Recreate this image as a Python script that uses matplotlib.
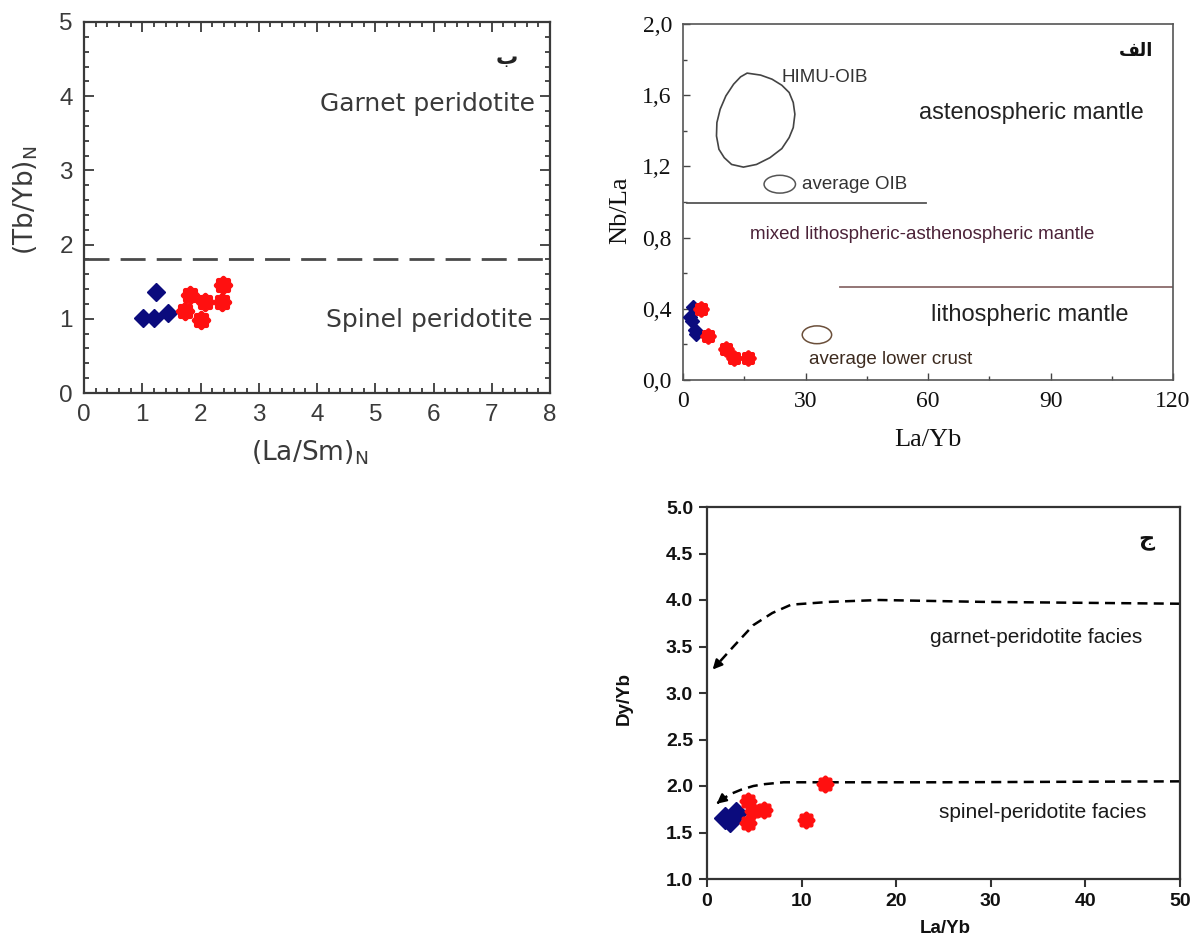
import numpy as np
import matplotlib.pyplot as plt
from matplotlib.path import Path
from matplotlib.patches import Ellipse, Polygon
from matplotlib.ticker import MultipleLocator, FuncFormatter

W, H = 1201, 942

# ---- panel ب : (La/Sm)N vs (Tb/Yb)N
lasm_blue = [1.02, 1.21, 1.23, 1.45]
tbyb_blue = [1.01, 1.01, 1.36, 1.08]
lasm_red = [1.74, 1.82, 2.01, 2.08, 2.37, 2.39]
tbyb_red = [1.10, 1.32, 0.99, 1.23, 1.23, 1.46]
tbyb_limit = 1.8

# ---- panel الف : La/Yb vs Nb/La
layb_blue_a = [2.4, 1.7, 2.1, 2.9, 3.3]
nbla_blue = [0.41, 0.356, 0.33, 0.28, 0.26]
layb_red_a = [4.3, 6.2, 10.5, 12.5, 16.0]
nbla_red = [0.40, 0.247, 0.174, 0.125, 0.125]
himu_x = [15.7, 19.0, 21.8, 24.2, 26.0, 27.0, 27.4, 27.0, 26.0, 24.2, 21.3,
          18.0, 14.8, 11.9, 10.1, 8.8, 8.2, 8.3, 9.1, 10.5, 12.4, 14.1]
himu_y = [1.724, 1.713, 1.690, 1.656, 1.615, 1.559, 1.493, 1.418, 1.362, 1.300, 1.249,
          1.211, 1.196, 1.211, 1.249, 1.296, 1.371, 1.446, 1.521, 1.596, 1.662, 1.703]
oib_avg = (23.7, 1.10)
crust_avg = (32.8, 0.254)

# ---- panel ج : La/Yb vs Dy/Yb
layb_blue_c = [1.9, 2.4, 3.1]
dyyb_blue = [1.66, 1.62, 1.71]
layb_red_c = [4.35, 4.35, 4.9, 6.0, 10.45, 12.5]
dyyb_red = [1.84, 1.60, 1.73, 1.74, 1.63, 2.02]
garnet_x = [50, 29, 18.2, 13, 8.9, 6.9, 4.9, 2.8, 1.2, 0.4]
garnet_y = [3.96, 3.98, 4.0, 3.98, 3.95, 3.86, 3.73, 3.5, 3.32, 3.23]
spinel_x = [50, 25, 12.6, 8.1, 6.1, 4.9, 3.6, 2.4, 1.4, 0.8]
spinel_y = [2.05, 2.04, 2.04, 2.04, 2.02, 2.0, 1.96, 1.91, 1.84, 1.79]

BLUE = '#0b0b7d'
RED = '#ff1010'

# scalloped round marker for the red samples
th = np.linspace(0, 2 * np.pi, 97)
rr = 1 + 0.09 * np.cos(8 * th)
flower = Path(np.column_stack([rr * np.cos(th), rr * np.sin(th)]), closed=True)


def place(fig, l, t, r, b):
    return fig.add_axes([l / W, 1 - b / H, (r - l) / W, (b - t) / H])


fig = plt.figure(figsize=(W / 100, H / 100), dpi=100)

# ================= ب =================
ax = place(fig, 84, 22, 550, 393)
grey = '#3a3a3a'
ax.axhline(tbyb_limit, color='#4a4a4a', lw=2, dashes=(9, 4))
ax.plot(lasm_blue, tbyb_blue, 'D', color=BLUE, ms=9.5, mec=BLUE)
ax.plot(lasm_red, tbyb_red, ls='none', marker=flower, color=RED, ms=13)
ax.set_xlim(0, 8)
ax.set_ylim(0, 5)
ax.xaxis.set_major_locator(MultipleLocator(1))
ax.yaxis.set_major_locator(MultipleLocator(1))
ax.xaxis.set_minor_locator(MultipleLocator(0.2))
ax.yaxis.set_minor_locator(MultipleLocator(0.2))
ax.tick_params(which='both', direction='in', top=True, right=True, colors=grey, width=1.3)
ax.tick_params(which='major', length=7, labelsize=17.5, pad=8)
ax.tick_params(which='minor', length=3.5)
for lab in ax.get_xticklabels() + ax.get_yticklabels():
    lab.set_family('Liberation Sans')
for s in ax.spines.values():
    s.set_color(grey)
    s.set_linewidth(1.6)
ax.text(7.75, 3.9, 'Garnet peridotite', ha='right', va='center', fontsize=18, color=grey,
        family='DejaVu Sans')
ax.text(7.7, 0.98, 'Spinel peridotite', ha='right', va='center', fontsize=18, color=grey,
        family='DejaVu Sans')
ax.text(7.26, 4.52, 'ب', ha='center', va='center', fontsize=16, fontweight='bold',
        color='#222222', family='DejaVu Sans')
ax.set_ylabel('(Tb/Yb)$_{\\mathregular{N}}$', fontsize=19, color=grey, family='DejaVu Sans')
ax.set_xlabel('(La/Sm)$_{\\mathregular{N}}$', fontsize=19, color=grey, family='DejaVu Sans')
ax.yaxis.set_label_coords(-0.125, 0.52)
ax.xaxis.set_label_coords(0.485, -0.16)
ax.yaxis.label.set_va('center')
ax.xaxis.label.set_va('center')

# ================= الف =================
ax = place(fig, 683, 24, 1173, 380)
ax.set_xlim(0, 120)
ax.set_ylim(0, 2.0)
ax.add_patch(Polygon(np.column_stack([himu_x, himu_y]), closed=True, fill=False,
                     ec='#444444', lw=1.2))
ax.add_patch(Ellipse(oib_avg, 7.7, 0.10, fill=False, ec='#555555', lw=1.1))
ax.add_patch(Ellipse(crust_avg, 7.2, 0.10, fill=False, ec='#6b4f3a', lw=1.1))
ax.plot([1.1, 59.4], [0.995, 0.995], color='#555555', lw=1.3)
ax.plot([38.5, 120], [0.522, 0.522], color='#8a6a6a', lw=1.3)
ax.plot(layb_blue_a, nbla_blue, 'D', color=BLUE, ms=7.5, zorder=3)
ax.plot(layb_red_a, nbla_red, ls='none', marker=flower, color=RED, ms=11, zorder=4)
sans = 'Liberation Sans'
ax.text(24.2, 1.70, 'HIMU-OIB', ha='left', va='center', fontsize=13.5, color='#333333', family=sans)
ax.text(29.1, 1.10, 'average OIB', ha='left', va='center', fontsize=13.5, color='#333333', family=sans)
ax.text(85.2, 1.50, 'astenospheric mantle', ha='center', va='center', fontsize=17,
        color='#222222', family=sans)
ax.text(58.5, 0.817, 'mixed lithospheric-asthenospheric mantle', ha='center', va='center',
        fontsize=13.5, color='#4b2238', family=sans)
ax.text(84.8, 0.366, 'lithospheric mantle', ha='center', va='center', fontsize=17,
        color='#222222', family=sans)
ax.text(50.9, 0.113, 'average lower crust', ha='center', va='center', fontsize=13.5,
        color='#3d2b1f', family=sans)
# visual order of the shaped word "الف"
ax.text(111, 1.85, '\ufed2\ufedf\ufe8d', ha='center', va='center', fontsize=13,
        fontweight='bold', color='#111111', family='DejaVu Sans')
ax.xaxis.set_major_locator(MultipleLocator(30))
ax.xaxis.set_minor_locator(MultipleLocator(15))
ax.yaxis.set_major_locator(MultipleLocator(0.4))
ax.yaxis.set_minor_locator(MultipleLocator(0.2))
ax.yaxis.set_major_formatter(FuncFormatter(lambda v, p: f'{v:.1f}'.replace('.', ',')))
ax.tick_params(which='both', direction='in', colors='#444444', labelcolor='#111111', width=1)
ax.tick_params(which='major', length=5, labelsize=17, pad=8)
ax.tick_params(which='minor', length=3)
for lab in ax.get_xticklabels() + ax.get_yticklabels():
    lab.set_family('Liberation Serif')
for s in ax.spines.values():
    s.set_color('#555555')
    s.set_linewidth(1.2)
ax.set_ylabel('Nb/La', fontsize=19, family='Liberation Serif', color='#111111')
ax.set_xlabel('La/Yb', fontsize=19, family='Liberation Serif', color='#111111')
ax.yaxis.set_label_coords(-0.129, 0.478)
ax.xaxis.set_label_coords(0.5, -0.169)
ax.yaxis.label.set_va('center')
ax.xaxis.label.set_va('center')

# ================= ج =================
ax = place(fig, 707, 507, 1180, 879)
ax.set_xlim(0, 50)
ax.set_ylim(1.0, 5.0)
for cx, cy in ((garnet_x, garnet_y), (spinel_x, spinel_y)):
    ax.plot(cx[:-1], cy[:-1], color='black', lw=1.8, dashes=(4, 2.5))
    ax.annotate('', xy=(cx[-1], cy[-1]), xytext=(cx[-2], cy[-2]),
                arrowprops=dict(arrowstyle='-|>', color='black', lw=1.6, mutation_scale=14))
ax.plot(layb_blue_c, dyyb_blue, 'D', color=BLUE, ms=11.5, zorder=3)
ax.plot(layb_red_c, dyyb_red, ls='none', marker=flower, color=RED, ms=12, zorder=4)
ax.text(34.8, 3.6, 'garnet-peridotite facies', ha='center', va='center', fontsize=15,
        color='#1a1a1a', family=sans)
ax.text(35.5, 1.71, 'spinel-peridotite facies', ha='center', va='center', fontsize=15,
        color='#1a1a1a', family=sans)
ax.text(46.4, 4.64, 'ج', ha='center', va='center', fontsize=16, fontweight='bold',
        color='#111111', family='DejaVu Sans')
ax.xaxis.set_major_locator(MultipleLocator(10))
ax.yaxis.set_major_locator(MultipleLocator(0.5))
ax.yaxis.set_major_formatter(FuncFormatter(lambda v, p: f'{v:.1f}'))
ax.tick_params(direction='out', length=6, width=1.5, colors='#333333', labelcolor='#111111',
               labelsize=14, pad=4)
for lab in ax.get_xticklabels() + ax.get_yticklabels():
    lab.set_family(sans)
    lab.set_fontweight('bold')
for s in ax.spines.values():
    s.set_color('#333333')
    s.set_linewidth(1.6)
ax.set_ylabel('Dy/Yb', fontsize=13.5, fontweight='bold', family=sans, color='#111111')
ax.set_xlabel('La/Yb', fontsize=13.5, fontweight='bold', family=sans, color='#111111')
ax.yaxis.set_label_coords(-0.175, 0.484)
ax.xaxis.set_label_coords(0.503, -0.134)
ax.yaxis.label.set_va('center')
ax.xaxis.label.set_va('center')

fig.savefig('out.png', dpi=100)
